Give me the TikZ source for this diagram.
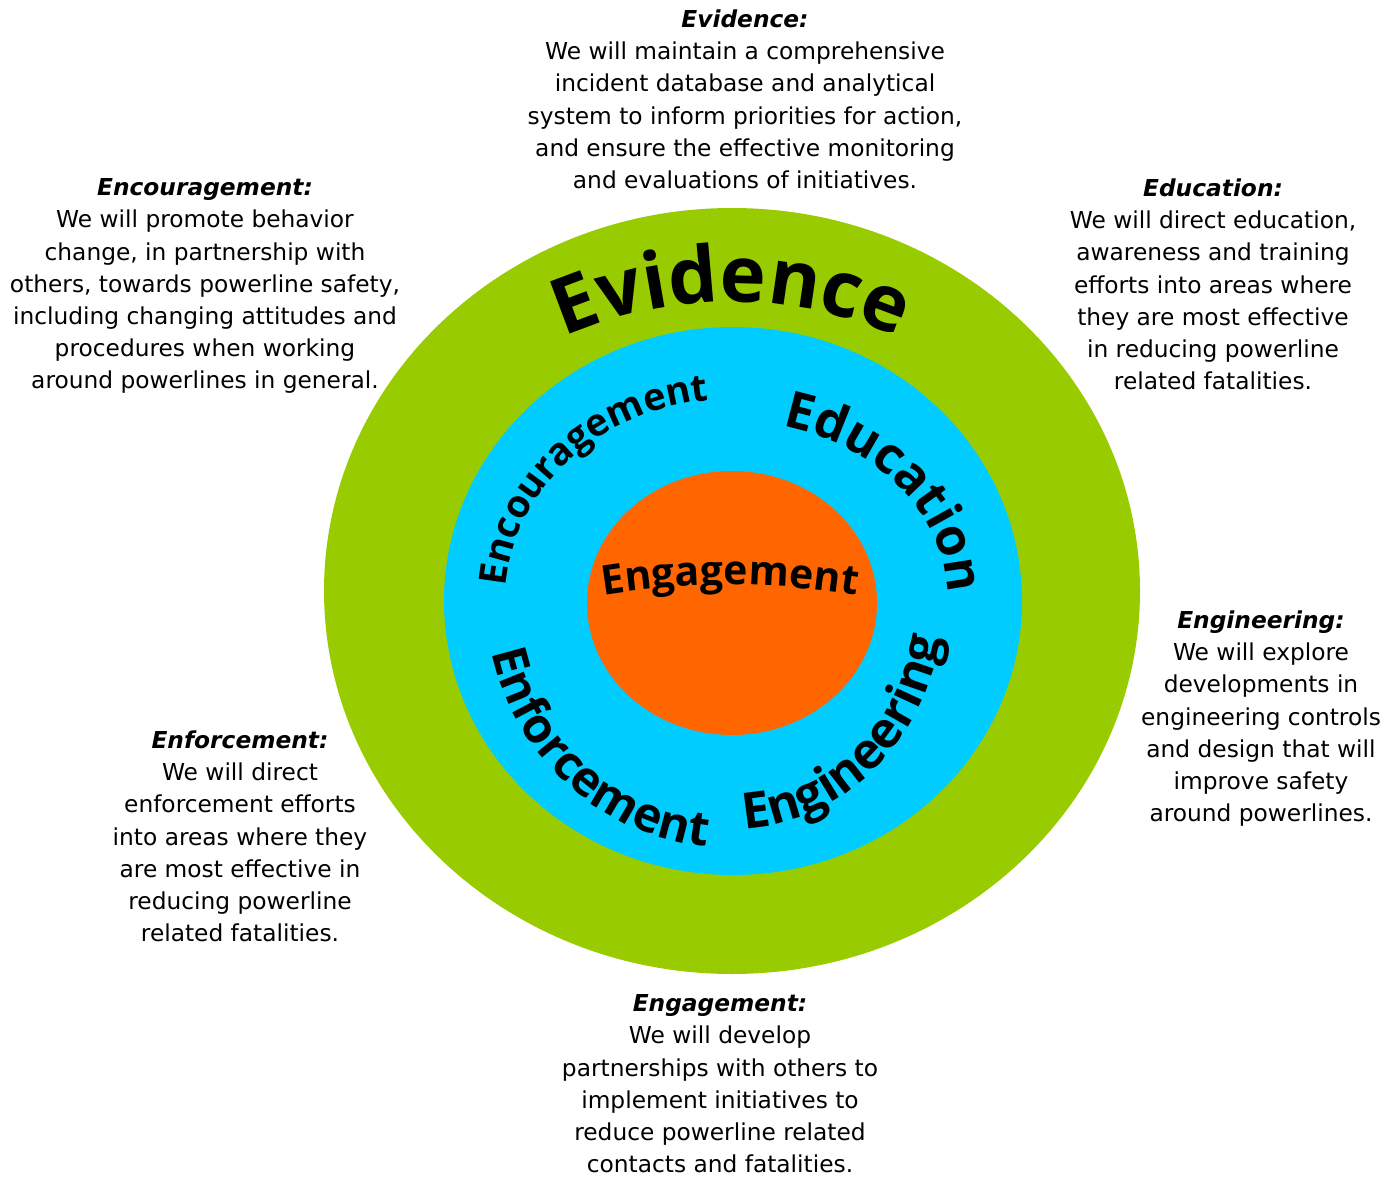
\documentclass[tikz,border=0pt]{standalone}
\usepackage{fontspec}
\setmainfont{DejaVu Sans}[ItalicFont=DejaVu Sans Oblique,BoldFont=DejaVu Sans Bold,BoldItalicFont=DejaVu Sans Bold Oblique]
\newfontfamily\ringfont{Open Sans}
\usetikzlibrary{decorations.text}

\definecolor{ringgreen}{HTML}{99CC00}
\definecolor{ringblue}{HTML}{00CCFF}
\definecolor{ringorange}{HTML}{FF6600}

\newcommand\lead[1]{\textbf{\textit{#1}}}
\newcommand\evfont{\ringfont\bfseries\fontsize{78}{78}\selectfont}
\newcommand\midfont{\ringfont\bfseries\fontsize{48}{48}\selectfont}
\newcommand\engfont{\ringfont\bfseries\fontsize{50}{50}\selectfont}
\newcommand\encfont{\ringfont\bfseries\fontsize{38}{38}\selectfont}
\newcommand\edfont{\ringfont\bfseries\fontsize{51}{51}\selectfont}
\newcommand\corefont{\ringfont\bfseries\fontsize{41}{41}\selectfont}

\tikzset{
  blurb/.style={align=center,inner sep=0pt,anchor=north,font=\fontsize{23.3}{32.2}\selectfont},
  ringword/.style={decorate,decoration={text along path,text align=center,text={#1}}},
}

\begin{document}
\begin{tikzpicture}[x=1pt,y=1pt]
  \useasboundingbox (0,0) rectangle (1398,-1177);

  % rings
  \coordinate (outer) at (732,-591);
  \coordinate (core) at (733,-601);
  \fill[ringgreen] (outer) ellipse [x radius=408pt,y radius=383pt];
  \fill[ringblue] (core) ellipse [x radius=289pt,y radius=274pt];
  \fill[ringorange] (732,-603) ellipse [x radius=145pt,y radius=132pt];

  % words round the rings
  \coordinate (evtop) at (731,-722);
  \coordinate (engtop) at (730,-1385);
  \path[ringword=|\evfont|Evidence]
    ([shift={(125:420pt)}]evtop) arc[start angle=125,end angle=55,radius=420pt];
  \path[ringword=|\encfont|Encouragement]
    ([shift={(207:228pt and 202pt)}]core) arc[start angle=207,end angle=68,x radius=228pt,y radius=202pt];
  \path[ringword=|\edfont|Education]
    ([shift={(98:215pt and 180pt)}]core) arc[start angle=98,end angle=-23,x radius=215pt,y radius=180pt];
  \path[ringword=|\midfont|Enforcement]
    ([shift={(168:247pt)}]core) arc[start angle=168,end angle=288,radius=247pt];
  \path[ringword=|\engfont|Engineering]
    ([shift={(250:210pt and 228pt)}]core) arc[start angle=250,end angle=372,x radius=210pt,y radius=228pt];
  \path[ringword=|\corefont|Engagement]
    ([shift={(102:800pt)}]engtop) arc[start angle=102,end angle=78,radius=800pt];

  % text blocks
  \node[blurb] (evidence) at (745,-9.5) {\lead{Evidence:}\\We will maintain a comprehensive\\incident database and analytical\\system to inform priorities for action,\\and ensure the effective monitoring\\and evaluations of initiatives.};
  \node[blurb] (encouragement) at (205,-178.5) {\lead{Encouragement:}\\We will promote behavior\\change, in partnership with\\others, towards powerline safety,\\including changing attitudes and\\procedures when working\\around powerlines in general.};
  \node[blurb] (education) at (1213,-178.5) {\lead{Education:}\\We will direct education,\\awareness and training\\efforts into areas where\\they are most effective\\in reducing powerline\\related fatalities.};
  \node[blurb] (engineering) at (1261,-610.5) {\lead{Engineering:}\\We will explore\\developments in\\engineering controls\\and design that will\\improve safety\\around powerlines.};
  \node[blurb] (enforcement) at (240,-730.5) {\lead{Enforcement:}\\We will direct\\enforcement efforts\\into areas where they\\are most effective in\\reducing powerline\\related fatalities.};
  \node[blurb] (engagement) at (720,-994.5) {\lead{Engagement:}\\We will develop\\partnerships with others to\\implement initiatives to\\reduce powerline related\\contacts and fatalities.};
\end{tikzpicture}
\end{document}
